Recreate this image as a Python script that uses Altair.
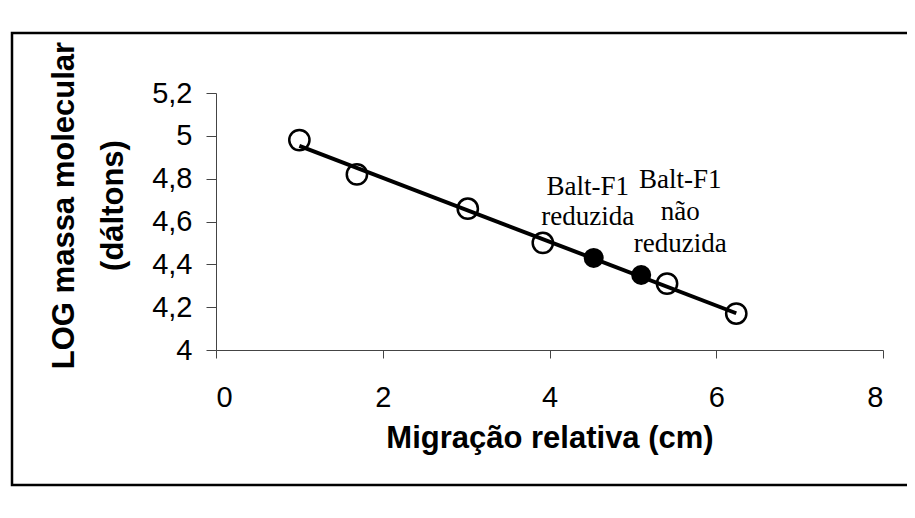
import altair as alt
import pandas as pd

# Marker proteins (open circles)
marker_x = [1.0, 1.69, 3.02, 3.92, 5.41, 6.24]
marker_y = [4.98, 4.82, 4.66, 4.50, 4.31, 4.17]
# Samples (filled circles)
sample_x = [4.53, 5.10]
sample_y = [4.43, 4.35]
sample_labels = ["Balt-F1\nreduzida", "Balt-F1\nnão\nreduzida"]
x_ticks = [0, 2, 4, 6, 8]
y_ticks = [4.0, 4.2, 4.4, 4.6, 4.8, 5.0, 5.2]

markers = pd.DataFrame({"x": marker_x, "y": marker_y})
samples = pd.DataFrame({"x": sample_x, "y": sample_y, "label": sample_labels})

W, H = 667, 257
AX = "Liberation Sans"

xs = alt.Scale(domain=[0, 8], nice=False, zero=False)
ys = alt.Scale(domain=[4, 5.2], nice=False, zero=False)

x_axis = alt.Axis(values=x_ticks, title="Migração relativa (cm)", grid=False, format="d",
                  tickSize=8, labelPadding=25, labelFontSize=29, labelFont=AX,
                  labelColor="black", domainColor="#444", tickColor="#444",
                  titleFont=AX, titleFontSize=31, titleFontWeight="bold", titleColor="black",
                  titleX=W / 2, titleY=88, titleBaseline="middle", titleAlign="center")
y_axis = alt.Axis(values=y_ticks, title=["LOG massa molecular", "(dáltons)"], grid=False,
                  tickSize=10, labelPadding=14, labelFontSize=29, labelFont=AX,
                  labelColor="black", domainColor="#444", tickColor="#444",
                  labelExpr="replace(format(datum.value, '.1~f'), '.', ',')",
                  titleFont=AX, titleFontSize=31, titleFontWeight="bold", titleColor="black",
                  titleAngle=270, titleX=-152, titleY=112, titleBaseline="middle",
                  titleAlign="center", titleLineHeight=49)

base_m = alt.Chart(markers)

frame = alt.Chart(pd.DataFrame({"k": [0]})).mark_rect(
    fill=None, stroke="black", strokeWidth=2.5
).encode(x=alt.value(-204), x2=alt.value(720), y=alt.value(-60), y2=alt.value(392))

fit = base_m.transform_regression("x", "y").mark_line(color="black", strokeWidth=4).encode(
    x=alt.X("x:Q", scale=xs, axis=x_axis),
    y=alt.Y("y:Q", scale=ys, axis=y_axis),
)

open_pts = base_m.mark_point(shape="circle", size=410, filled=False, stroke="black",
                             strokeWidth=2.5, opacity=1).encode(
    x=alt.X("x:Q", scale=xs), y=alt.Y("y:Q", scale=ys))

filled_pts = alt.Chart(samples).mark_point(shape="circle", size=400, filled=True,
                                           color="black", opacity=1).encode(
    x=alt.X("x:Q", scale=xs), y=alt.Y("y:Q", scale=ys))

lab1 = alt.Chart(samples).transform_filter(alt.datum.x < 5).mark_text(
    font="Liberation Serif", fontSize=27, color="black", align="center",
    baseline="alphabetic", lineBreak="\n", lineHeight=30, dx=-6, dy=-63
).encode(x=alt.X("x:Q", scale=xs), y=alt.Y("y:Q", scale=ys), text="label:N")

lab2 = alt.Chart(samples).transform_filter(alt.datum.x > 5).mark_text(
    font="Liberation Serif", fontSize=27, color="black", align="center",
    baseline="alphabetic", lineBreak="\n", lineHeight=32, dx=39, dy=-87
).encode(x=alt.X("x:Q", scale=xs), y=alt.Y("y:Q", scale=ys), text="label:N")

chart = alt.layer(frame, fit, open_pts, filled_pts, lab1, lab2).properties(
    width=W, height=H,
    autosize=alt.AutoSizeParams(type="none"),
    padding={"left": 208, "top": 85, "right": 24, "bottom": 160},
    background="white",
).configure_view(stroke=None)

chart.save("out.html", embed_options={"renderer": "svg", "actions": False})
